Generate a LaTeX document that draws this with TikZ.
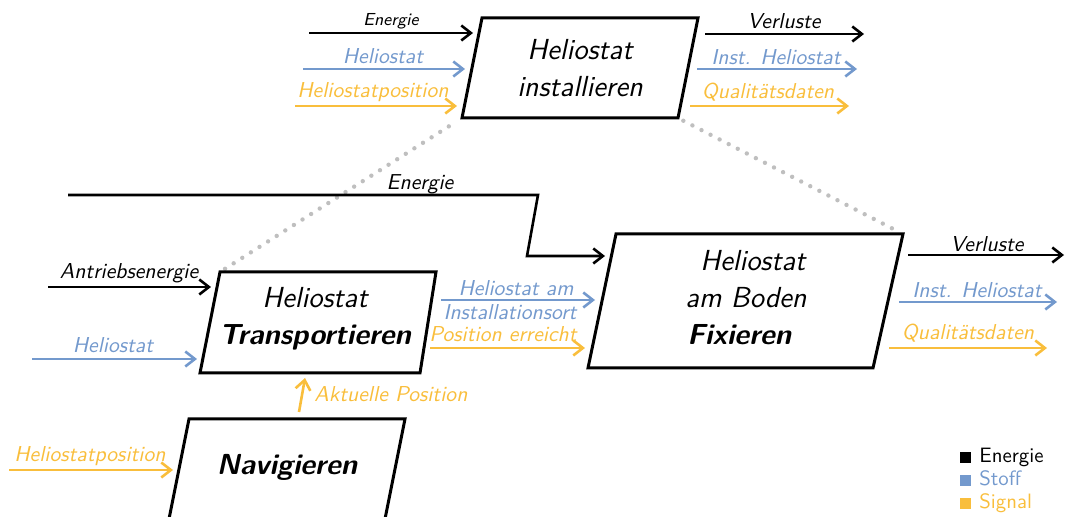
\documentclass[tikz,border=0pt]{standalone}
\usetikzlibrary{arrows.meta}
\definecolor{stoff}{HTML}{7399CD}
\definecolor{signal}{HTML}{F9BE3C}
\definecolor{dotgray}{HTML}{BFBFBF}
\begin{document}
\begin{tikzpicture}[x=0.5pt,y=-0.5pt,
  box/.style={draw=black,line width=1.5pt,line join=miter},
  flow/.style={line width=1.3pt,-{Straight Barb[length=4.8pt,width=7.5pt,line width=1.3pt]}},
  lab/.style={font=\sffamily\slshape\fontsize{10.8}{12}\selectfont, inner sep=0pt, anchor=base},
  smalllab/.style={lab, font=\sffamily\slshape\fontsize{8.7}{10}\selectfont},
  boxtxt/.style={font=\sffamily\slshape\fontsize{14.5}{18.5}\selectfont, align=center, inner sep=0pt, anchor=base},
  dotline/.style={dotgray, line width=2.2pt, line cap=round, dash pattern=on 0pt off 5.1pt, shorten <=3pt, shorten >=3pt},
  legtxt/.style={font=\sffamily\fontsize{10.4}{12}\selectfont, inner sep=0pt, anchor=base west},
  legsq/.style={minimum size=5.5pt, inner sep=0pt, draw=none}
]
\useasboundingbox (0,0) rectangle (1065,517);

% ---------- box corners ----------
\coordinate (inst-nw) at (482,18);  \coordinate (inst-ne) at (698,18);
\coordinate (inst-se) at (678,118); \coordinate (inst-sw) at (462,118);
\coordinate (tr-nw) at (220,272);   \coordinate (tr-ne) at (436,272);
\coordinate (tr-se) at (420,373);   \coordinate (tr-sw) at (200,373);
\coordinate (fx-nw) at (616,234);   \coordinate (fx-ne) at (903,234);
\coordinate (fx-se) at (873,368);   \coordinate (fx-sw) at (588,368);
\coordinate (nav-nw) at (189,419);  \coordinate (nav-ne) at (405,419);
\coordinate (nav-se) at (384,524);  \coordinate (nav-sw) at (168,524);

% ---------- dotted relations ----------
\draw[dotline] (tr-nw) -- (inst-sw);
\draw[dotline] (inst-se) -- (fx-ne);

% ---------- boxes ----------
\draw[box] (inst-nw) -- (inst-ne) -- (inst-se) -- (inst-sw) -- cycle;
\draw[box] (tr-nw) -- (tr-ne) -- (tr-se) -- (tr-sw) -- cycle;
\draw[box] (fx-nw) -- (fx-ne) -- (fx-se) -- (fx-sw) -- cycle;
\draw[box] (nav-nw) -- (nav-ne) -- (nav-se) -- (nav-sw) -- cycle;

\node[boxtxt] (instT) at (580,97) {Heliostat\\installieren};
\node[boxtxt] (trT) at (315,345) {Heliostat\\\bfseries Transportieren};
\node[boxtxt,align=left,anchor=base west] (fxT) at (685,345) {\hspace*{7.5pt}Heliostat\\am Boden\\\hspace*{1pt}\bfseries Fixieren};
\node[boxtxt] (navT) at (287,475) {\bfseries Navigieren};

% ---------- install: inputs ----------
\coordinate (iE0) at (309,33);  \coordinate (iE1) at (473,33);
\coordinate (iH0) at (303,69);  \coordinate (iH1) at (465,69);
\coordinate (iP0) at (295,106); \coordinate (iP1) at (457,106);
\draw[flow] (iE0) -- (iE1);
\draw[flow,stoff] (iH0) -- (iH1);
\draw[flow,signal] (iP0) -- (iP1);
\node[smalllab] (liE) at (391,26) {Energie};
\node[lab,stoff] (liH) at (383,64) {Heliostat};
\node[lab,signal] (liP) at (373,98) {Heliostatposition};

% ---------- install: outputs ----------
\coordinate (oV0) at (705,34);  \coordinate (oV1) at (864,34);
\coordinate (oI0) at (697,69);  \coordinate (oI1) at (857,69);
\coordinate (oQ0) at (690,106); \coordinate (oQ1) at (849,106);
\draw[flow] (oV0) -- (oV1);
\draw[flow,stoff] (oI0) -- (oI1);
\draw[flow,signal] (oQ0) -- (oQ1);
\node[lab] (loV) at (784,29) {Verluste};
\node[lab,stoff] (loI) at (776,65) {Inst. Heliostat};
\node[lab,signal] (loQ) at (768,99) {Qualitätsdaten};

% ---------- energy to Fixieren ----------
\coordinate (mE0) at (68,195); \coordinate (mEa) at (538,195);
\coordinate (mEb) at (527,256); \coordinate (mE1) at (605,256);
\draw[flow] (mE0) -- (mEa) -- (mEb) -- (mE1);
\node[lab] (lmE) at (420,190) {Energie};

% ---------- transport: inputs ----------
\coordinate (tA0) at (48,287);  \coordinate (tA1) at (211,287);
\coordinate (tH0) at (32,359);  \coordinate (tH1) at (197,359);
\draw[flow] (tA0) -- (tA1);
\draw[flow,stoff] (tH0) -- (tH1);
\node[lab] (ltA) at (129,279) {Antriebsenergie};
\node[lab,stoff] (ltH) at (113,353) {Heliostat};

% ---------- transport -> fixieren ----------
\coordinate (tf0) at (441,300); \coordinate (tf1) at (595,300);
\coordinate (tp0) at (430,348); \coordinate (tp1) at (585,348);
\draw[flow,stoff] (tf0) -- (tf1);
\draw[flow,signal] (tp0) -- (tp1);
\node[lab,stoff] (ltf1) at (516,296) {Heliostat am};
\node[lab,stoff] (ltf2) at (510,320) {Installationsort};
\node[lab,signal] (ltp) at (503,342) {Position erreicht};

% ---------- navigation -> transport ----------
\coordinate (ap0) at (299,412); \coordinate (ap1) at (305,378);
\draw[flow,signal] (ap0) -- (ap1);
\node[lab,signal,anchor=base west] (lap) at (314,402) {Aktuelle Position};

% ---------- navigation input ----------
\coordinate (nP0) at (9,470); \coordinate (nP1) at (173,470);
\draw[flow,signal] (nP0) -- (nP1);
\node[lab,signal] (lnP) at (90,462) {Heliostatposition};

% ---------- fixieren outputs ----------
\coordinate (fV0) at (908,255); \coordinate (fV1) at (1064,255);
\coordinate (fI0) at (899,302); \coordinate (fI1) at (1057,302);
\coordinate (fQ0) at (889,348); \coordinate (fQ1) at (1047,348);
\draw[flow] (fV0) -- (fV1);
\draw[flow,stoff] (fI0) -- (fI1);
\draw[flow,signal] (fQ0) -- (fQ1);
\node[lab] (lfV) at (987,252) {Verluste};
\node[lab,stoff] (lfI) at (977,298) {Inst. Heliostat};
\node[lab,signal] (lfQ) at (968,340) {Qualitätsdaten};

% ---------- legend ----------
\node[legsq,fill=black] (sqE) at (965.5,457.5) {};
\node[legsq,fill=stoff] (sqS) at (965.5,480.5) {};
\node[legsq,fill=signal] (sqG) at (965.5,503.5) {};
\node[legtxt] (ltE) at (979,463) {Energie};
\node[legtxt,stoff] (ltS) at (979,486) {Stoff};
\node[legtxt,signal] (ltG) at (979,509) {Signal};
\end{tikzpicture}
\end{document}
